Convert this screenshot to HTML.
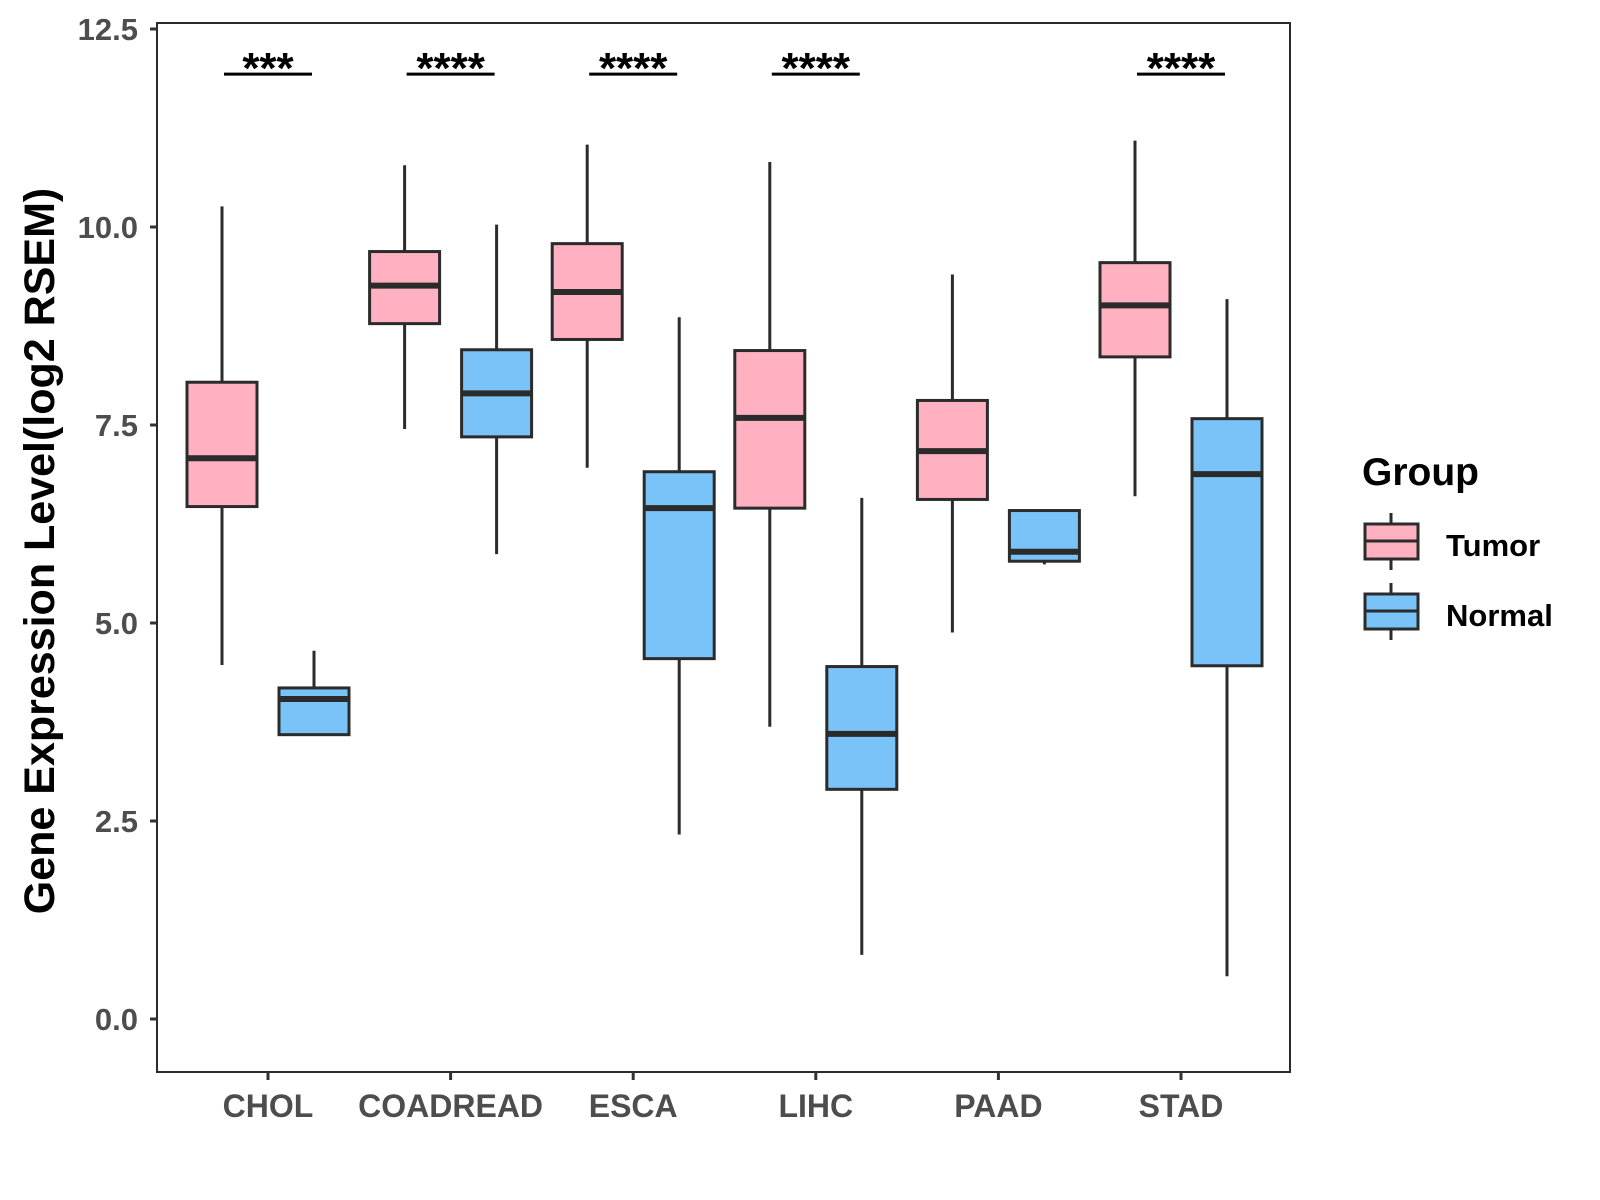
<!DOCTYPE html>
<html><head><meta charset="utf-8"><style>
html,body{margin:0;padding:0;background:#fff;}
svg{display:block;font-family:"Liberation Sans",Arial,sans-serif;font-weight:bold;}
</style></head><body>
<svg id="chart" width="1600" height="1200" viewBox="0 0 1600 1200">
<rect x="0" y="0" width="1600" height="1200" fill="#fff"/>
<g id="plot"></g>
<text transform="translate(54,551) rotate(-90)" text-anchor="middle" font-size="43" fill="#000">Gene Expression Level(log2 RSEM)</text>
<g>
<text x="1362" y="485" font-size="39" fill="#000">Group</text>
<g>
<line x1="1391" y1="513" x2="1391" y2="570" stroke="#2b2b2b" stroke-width="3"/>
<rect x="1365" y="524" width="53" height="35" fill="#FFB0C1" stroke="#2b2b2b" stroke-width="3"/>
<line x1="1365" y1="541" x2="1418" y2="541" stroke="#2b2b2b" stroke-width="3"/>
<text x="1446" y="556" font-size="31" fill="#000">Tumor</text>
</g>
<g>
<line x1="1391" y1="583" x2="1391" y2="640" stroke="#2b2b2b" stroke-width="3"/>
<rect x="1365" y="594" width="53" height="35" fill="#79C3F9" stroke="#2b2b2b" stroke-width="3"/>
<line x1="1365" y1="611" x2="1418" y2="611" stroke="#2b2b2b" stroke-width="3"/>
<text x="1446" y="626" font-size="31" fill="#000">Normal</text>
</g>
</g>
</svg>
<script>
const categories = ["CHOL","COADREAD","ESCA","LIHC","PAAD","STAD"];
const tumorMin = [4.47,7.45,6.96,3.69,4.88,6.60];
const tumorQ1  = [6.47,8.78,8.58,6.45,6.56,8.36];
const tumorMed = [7.08,9.26,9.18,7.59,7.17,9.01];
const tumorQ3  = [8.04,9.69,9.79,8.44,7.81,9.55];
const tumorMax = [10.26,10.78,11.04,10.82,9.40,11.09];
const normalMin = [3.59,5.87,2.33,0.81,5.74,0.54];
const normalQ1  = [3.59,7.35,4.55,2.90,5.78,4.46];
const normalMed = [4.04,7.90,6.45,3.60,5.90,6.88];
const normalQ3  = [4.18,8.45,6.91,4.45,6.42,7.58];
const normalMax = [4.65,10.03,8.86,6.58,6.42,9.09];
const sigLabels = ["***","****","****","****","","****"];
const yTicks = [0,2.5,5,7.5,10,12.5];
const yTickLabels = ["0.0","2.5","5.0","7.5","10.0","12.5"];
const sigLevel = 11.93;

const NS="http://www.w3.org/2000/svg";
const plot=document.getElementById("plot");
const L=157,R=1290,T=23,B=1072;
function y(v){return 1019 - v*79.2;}
function x(i){return 268 + i*182.6;}
function mk(tag,attrs,parent){const e=document.createElementNS(NS,tag);for(const k in attrs)e.setAttribute(k,attrs[k]);(parent||plot).appendChild(e);return e;}

const frame=mk("rect",{x:L,y:T,width:R-L,height:B-T,fill:"none",stroke:"#2b2b2b","stroke-width":2});



yTicks.forEach((t,i)=>{
  const tk=mk("line",{x1:L-7,x2:L,y1:y(t),y2:y(t),stroke:"#333","stroke-width":3});
  
  
  const tx=mk("text",{x:L-19,y:y(t)+11,"text-anchor":"end","font-size":31,fill:"#4d4d4d"});
  tx.textContent=yTickLabels[i];
  
  
});
categories.forEach((c,i)=>{
  const tk=mk("line",{x1:x(i),x2:x(i),y1:B,y2:B+8,stroke:"#333","stroke-width":3});
  
  
  const tx=mk("text",{x:x(i),y:B+45,"text-anchor":"middle","font-size":32,fill:"#4d4d4d"});
  tx.textContent=c;
  
  
});
function box(cx,mn,q1,md,q3,mx,fill,name){
  const g=mk("g",{});
  
  
  mk("line",{x1:cx,x2:cx,y1:y(mx),y2:y(q3),stroke:"#2b2b2b","stroke-width":3},g);
  mk("line",{x1:cx,x2:cx,y1:y(q1),y2:y(mn),stroke:"#2b2b2b","stroke-width":3},g);
  mk("rect",{x:cx-35,y:y(q3),width:70,height:Math.max(y(q1)-y(q3),0.5),fill:fill,stroke:"#2b2b2b","stroke-width":3},g);
  mk("line",{x1:cx-35,x2:cx+35,y1:y(md),y2:y(md),stroke:"#2b2b2b","stroke-width":6},g);
}
categories.forEach((c,i)=>{
  box(x(i)-46,tumorMin[i],tumorQ1[i],tumorMed[i],tumorQ3[i],tumorMax[i],"#FFB0C1","box-tumor-"+c.toLowerCase());
  box(x(i)+46,normalMin[i],normalQ1[i],normalMed[i],normalQ3[i],normalMax[i],"#79C3F9","box-normal-"+c.toLowerCase());
  if(sigLabels[i]){
    const ln=mk("line",{x1:x(i)-44,x2:x(i)+44,y1:y(sigLevel),y2:y(sigLevel),stroke:"#000","stroke-width":3});
    
    
    const st=mk("text",{x:x(i),y:y(sigLevel)+9,"text-anchor":"middle","font-size":44,fill:"#000"});
    st.textContent=sigLabels[i];
    
    
  }
});
</script>
</body></html>
